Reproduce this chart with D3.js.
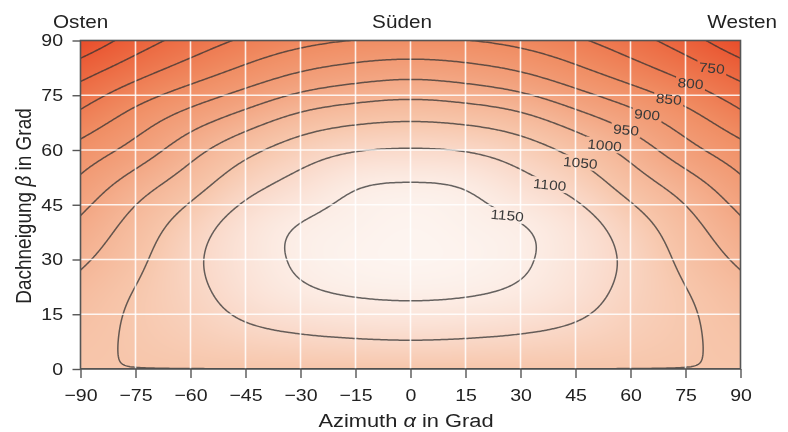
<!DOCTYPE html>
<html>
<head>
<meta charset="utf-8">
<script src="https://cdn.jsdelivr.net/npm/d3@7"></script>
<style>
  html, body { margin: 0; padding: 0; background: #fff; }
  #chart { position: relative; width: 788px; height: 432px; }
  #chart canvas, #chart svg { position: absolute; left: 0; top: 0; }
  text { font-family: "Liberation Sans", Arial, Helvetica, sans-serif; fill: #222; }
</style>
</head>
<body>
<div id="chart"></div>
<script>
// Azimuth columns (degrees, east negative, south = 0) and roof tilt rows (degrees)
const azimuths = [-90, -75, -60, -45, -30, -15, 0, 15, 30, 45, 60, 75, 90];
const tilts = [0, 10, 20, 30, 40, 50, 60, 70, 80, 90];

// Annual irradiation (kWh/m²) per tilt row, one value per azimuth column
const tilt0  = [1049.7, 1049.7, 1049.7, 1049.7, 1049.7, 1049.7, 1049.7, 1049.7, 1049.7, 1049.7, 1049.7, 1049.7, 1049.7];
const tilt10 = [1038, 1055, 1072, 1090, 1102, 1109, 1112, 1109, 1102, 1090, 1072, 1055, 1038];
const tilt20 = [1020, 1053, 1085, 1119, 1141, 1151, 1154, 1151, 1141, 1119, 1085, 1053, 1020];
const tilt30 = [ 991, 1038, 1089, 1129, 1155, 1166, 1170, 1166, 1155, 1129, 1089, 1038,  991];
const tilt40 = [ 958, 1016, 1072, 1121, 1150, 1162, 1168, 1162, 1150, 1121, 1072, 1016,  958];
const tilt50 = [ 915,  977, 1031, 1084, 1119, 1147, 1154, 1147, 1119, 1084, 1031,  977,  915];
const tilt60 = [ 867,  919,  981, 1035, 1074, 1097, 1103, 1097, 1074, 1035,  981,  919,  867];
const tilt70 = [ 807,  862,  913,  960, 1003, 1025, 1033, 1025, 1003,  960,  913,  862,  807];
const tilt80 = [ 741,  792,  835,  875,  912,  934,  944,  934,  912,  875,  835,  792,  741];
const tilt90 = [ 658,  723,  771,  808,  835,  851,  855,  851,  835,  808,  771,  723,  658];
const rows = [tilt0, tilt10, tilt20, tilt30, tilt40, tilt50, tilt60, tilt70, tilt80, tilt90];

// Axis ticks
const azimuthTicks = [-90, -75, -60, -45, -30, -15, 0, 15, 30, 45, 60, 75, 90];
const tiltTicks = [0, 15, 30, 45, 60, 75, 90];

// Isolines and the ones that carry a value label
const isoLevels = [700, 750, 800, 850, 900, 950, 1000, 1050, 1100, 1150];
const labelledLevels = [750, 800, 850, 900, 950, 1000, 1050, 1100, 1150];

// Colour ramp of the shaded background
const shadeValues = [650, 750, 850, 950, 1050, 1110, 1175];
const shadeColors = ["#e84a28", "#ec6a42", "#f08d63", "#f3a784", "#f7c6ab", "#fadcce", "#fdf6f2"];

// Compass directions above the plot
const directions = ["Osten", "Süden", "Westen"];

const W = 788, H = 432;
const stretch = 1.15; // horizontal widening of the lettering
const x = d3.scaleLinear().domain([-90, 90]).range([80.5, 740.5]);
const y = d3.scaleLinear().domain([0, 90]).range([369, 40.5]);
const color = d3.scaleLinear().domain(shadeValues).range(shadeColors).clamp(true);

// --- natural cubic spline through (xs, ys)
function naturalSpline(xs, ys) {
  const n = xs.length - 1;
  const h = d3.range(n).map(i => xs[i + 1] - xs[i]);
  const a = new Array(n + 1).fill(0), b = new Array(n + 1).fill(1), c = new Array(n + 1).fill(0), r = new Array(n + 1).fill(0);
  for (let i = 1; i < n; i++) {
    a[i] = h[i - 1]; b[i] = 2 * (h[i - 1] + h[i]); c[i] = h[i];
    r[i] = 6 * ((ys[i + 1] - ys[i]) / h[i] - (ys[i] - ys[i - 1]) / h[i - 1]);
  }
  const cp = new Array(n + 1), rp = new Array(n + 1);
  cp[0] = c[0] / b[0]; rp[0] = r[0] / b[0];
  for (let i = 1; i <= n; i++) {
    const den = b[i] - a[i] * cp[i - 1];
    cp[i] = c[i] / den; rp[i] = (r[i] - a[i] * rp[i - 1]) / den;
  }
  const m = new Array(n + 1);
  m[n] = rp[n];
  for (let i = n - 1; i >= 0; i--) m[i] = rp[i] - cp[i] * m[i + 1];
  return function (v) {
    const i = Math.min(n - 1, Math.max(0, d3.bisectRight(xs, v) - 1));
    const hi = h[i], A = (xs[i + 1] - v) / hi, B = (v - xs[i]) / hi;
    return A * ys[i] + B * ys[i + 1] + ((A * A * A - A) * m[i] + (B * B * B - B) * m[i + 1]) * hi * hi / 6;
  };
}

// --- fine surface: splines along azimuth in every row, then along tilt in every column
const dAz = 0.5, dTilt = 0.25;
const nx = Math.round(180 / dAz) + 1, ny = Math.round(90 / dTilt) + 1;
const azFine = d3.range(nx).map(i => -90 + i * dAz);
const tiltFine = d3.range(ny).map(j => j * dTilt);
const rowsFine = rows.map(r => azFine.map(naturalSpline(azimuths, r)));
const grid = new Array(nx * ny);
for (let i = 0; i < nx; i++) {
  const s = naturalSpline(tilts, rowsFine.map(r => r[i]));
  for (let j = 0; j < ny; j++) grid[j * nx + i] = s(tiltFine[j]);
}
function fieldAt(az, tilt) {
  const u = Math.max(0, Math.min(nx - 1.000001, (az + 90) / dAz));
  const v = Math.max(0, Math.min(ny - 1.000001, tilt / dTilt));
  const i = Math.floor(u), j = Math.floor(v), fu = u - i, fv = v - j;
  const g = (ii, jj) => grid[jj * nx + ii];
  return (g(i, j) * (1 - fu) + g(i + 1, j) * fu) * (1 - fv) + (g(i, j + 1) * (1 - fu) + g(i + 1, j + 1) * fu) * fv;
}

const chart = d3.select("#chart");
const [plotLeft, plotRight] = x.range();
const [plotBottom, plotTop] = y.range();

// --- shaded background on a canvas
const canvas = chart.append("canvas").attr("width", W).attr("height", H).node();
const ctx = canvas.getContext("2d");
const cx0 = Math.floor(plotLeft), cx1 = Math.ceil(plotRight), cy0 = Math.floor(plotTop), cy1 = Math.ceil(plotBottom);
const img = ctx.createImageData(cx1 - cx0, cy1 - cy0);
for (let r = 0; r < cy1 - cy0; r++) {
  for (let q = 0; q < cx1 - cx0; q++) {
    const c = d3.rgb(color(fieldAt(x.invert(cx0 + q + 0.5), y.invert(cy0 + r + 0.5))));
    const k = (r * (cx1 - cx0) + q) * 4;
    img.data[k] = c.r; img.data[k + 1] = c.g; img.data[k + 2] = c.b; img.data[k + 3] = 255;
  }
}
ctx.putImageData(img, cx0, cy0);

const svg = chart.append("svg").attr("width", W).attr("height", H);
const defs = svg.append("defs");
defs.append("clipPath").attr("id", "plotClip")
  .append("rect").attr("x", plotLeft).attr("y", plotTop)
  .attr("width", plotRight - plotLeft).attr("height", plotBottom - plotTop);

// --- isolines
const contours = d3.contours().size([nx, ny]).thresholds(isoLevels)(grid);
const toScreen = d3.geoTransform({
  point(gx, gy) { this.stream.point(x(-90 + (gx - 0.5) * dAz), y((gy - 0.5) * dTilt)); }
});
const path = d3.geoPath(toScreen);

// label positions: where each isoline meets a diagonal track on the western side
const track = [[20, 37.5], [88, 86.7]];
function labelPoint(level) {
  let prev = null;
  for (let s = 0; s <= 1.0001; s += 0.001) {
    const az = track[0][0] + s * (track[1][0] - track[0][0]);
    const tl = track[0][1] + s * (track[1][1] - track[0][1]);
    const v = fieldAt(az, tl);
    if (prev && prev.v >= level && v < level) {
      const f = (prev.v - level) / (prev.v - v);
      return [prev.az + f * (az - prev.az), prev.tl + f * (tl - prev.tl)];
    }
    prev = { az, tl, v };
  }
  return null;
}
const labels = labelledLevels.map(level => ({ level, p: labelPoint(level) })).filter(d => d.p);

const mask = defs.append("mask").attr("id", "labelGaps")
  .attr("maskUnits", "userSpaceOnUse").attr("x", 0).attr("y", 0).attr("width", W).attr("height", H);
mask.append("rect").attr("width", W).attr("height", H).attr("fill", "#fff");

const plot = svg.append("g").attr("clip-path", "url(#plotClip)");
plot.append("g").attr("mask", "url(#labelGaps)")
  .selectAll("path").data(contours).join("path")
  .attr("d", path)
  .attr("fill", "none")
  .attr("stroke", "#333")
  .attr("stroke-opacity", 0.75)
  .attr("stroke-width", 1.5)
  .attr("stroke-linejoin", "round");

// white grid
const gridG = plot.append("g").attr("stroke", "#fff").attr("stroke-opacity", 0.85).attr("stroke-width", 1.6);
gridG.selectAll("line.v").data(azimuthTicks.slice(1, -1)).join("line").attr("class", "v")
  .attr("x1", d => x(d)).attr("x2", d => x(d)).attr("y1", plotTop).attr("y2", plotBottom);
gridG.selectAll("line.h").data(tiltTicks.slice(1, -1)).join("line").attr("class", "h")
  .attr("x1", plotLeft).attr("x2", plotRight).attr("y1", d => y(d)).attr("y2", d => y(d));

// isoline value labels
const labelAngle = 5;
const labelG = svg.append("g");
labels.forEach(d => {
  const lx = x(d.p[0]), ly = y(d.p[1]);
  const t = labelG.append("text")
    .attr("transform", `translate(${lx},${ly}) rotate(${labelAngle}) scale(${stretch},1)`)
    .attr("text-anchor", "middle").attr("dy", "0.36em")
    .style("font-size", "13.5px").style("fill", "#3a3a3a")
    .text(d.level);
  const w = t.node().getComputedTextLength() * stretch + 4;
  mask.append("rect")
    .attr("transform", `translate(${lx},${ly}) rotate(${labelAngle})`)
    .attr("x", -w / 2).attr("y", -7).attr("width", w).attr("height", 14).attr("fill", "#000");
});

// frame
svg.append("rect").attr("x", plotLeft).attr("y", plotTop)
  .attr("width", plotRight - plotLeft).attr("height", plotBottom - plotTop)
  .attr("fill", "none").attr("stroke", "#555").attr("stroke-width", 1.6);

// axes
const xAxis = svg.append("g").attr("transform", `translate(0,${plotBottom})`)
  .call(d3.axisBottom(x).tickValues(azimuthTicks).tickSize(9).tickPadding(11).tickFormat(d3.format("d")));
const yAxis = svg.append("g").attr("transform", `translate(${plotLeft},0)`)
  .call(d3.axisLeft(y).tickValues(tiltTicks).tickSize(8).tickPadding(9.5).tickFormat(d3.format("d")));
[xAxis, yAxis].forEach(a => {
  a.attr("font-family", null).attr("font-size", null);
  a.select(".domain").remove();
  a.selectAll(".tick line").attr("stroke", "#555").attr("stroke-width", 1.4);
  a.selectAll(".tick text").style("font-size", "17px").style("fill", "#222");
});
xAxis.selectAll(".tick text").attr("transform", `scale(${stretch},1)`);
yAxis.selectAll(".tick text").each(function () {
  const s = d3.select(this);
  const tx = +s.attr("x");
  s.attr("x", 0).attr("transform", `translate(${tx},0) scale(${stretch},1)`);
});

// widened lettering placed at a point
function label(px, py, size, anchor, rot) {
  return svg.append("text")
    .attr("transform", `translate(${px},${py}) scale(${stretch},1)` + (rot ? ` rotate(${rot})` : ""))
    .attr("text-anchor", anchor).style("font-size", size + "px");
}

// compass directions
label(53, 28, 18, "start").text(directions[0]);
label(402, 28, 18, "middle").text(directions[1]);
label(777, 28, 18, "end").text(directions[2]);

// axis titles
const xt = label(406, 427, 19, "middle");
xt.append("tspan").text("Azimuth ");
xt.append("tspan").style("font-style", "italic").text("α");
xt.append("tspan").text(" in Grad");

const yt = label(31, 206, 19, "middle", -90);
yt.append("tspan").text("Dachneigung ");
yt.append("tspan").style("font-style", "italic").text("β");
yt.append("tspan").text(" in Grad");
</script>
</body>
</html>
